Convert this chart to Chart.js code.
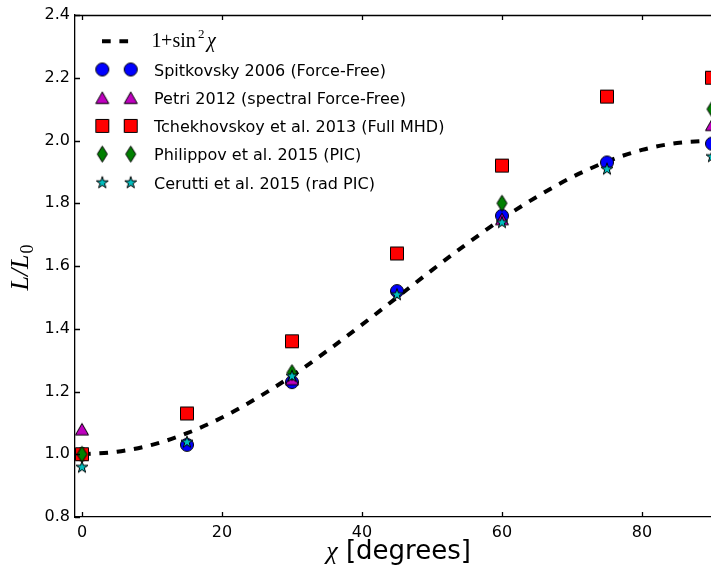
<!DOCTYPE html>
<html><head><meta charset="utf-8">
<script src="https://cdn.jsdelivr.net/npm/chart.js@4.4.1/dist/chart.umd.min.js"></script>
<style>html,body{margin:0;padding:0;overflow:hidden;background:#fff;width:711px;height:572px}canvas{display:block}</style>
</head><body><canvas id="c" width="712" height="572"></canvas>
<script>
// ---- data ----
const modelX = [0,5,10,15,20,25,30,35,40,45,50,55,60,65,70,75,80,85,90];
const modelY = [1.000,1.008,1.030,1.067,1.117,1.179,1.250,1.329,1.413,1.500,1.587,1.671,1.750,1.821,1.883,1.933,1.970,1.992,2.000];
const spitX = [0,15,30,45,60,75,90];
const spitY = [1.00,1.03,1.23,1.52,1.76,1.93,1.99];
const petriX = [0,30,60,90];
const petriY = [1.08,1.24,1.75,2.05];
const tchekX = [0,15,30,45,60,75,90];
const tchekY = [1.00,1.13,1.36,1.64,1.92,2.14,2.20];
const philX = [0,30,60,90];
const philY = [1.00,1.26,1.80,2.10];
const ceruX = [0,15,30,45,60,75,90];
const ceruY = [0.96,1.04,1.25,1.51,1.74,1.91,1.95];
const xTicks = [0,20,40,60,80];
const yTicks = [0.8,1.0,1.2,1.4,1.6,1.8,2.0,2.2,2.4];
const seriesNames = ['Spitkovsky 2006 (Force-Free)','Petri 2012 (spectral Force-Free)','Tchekhovskoy et al. 2013 (Full MHD)','Philippov et al. 2015 (PIC)','Cerutti et al. 2015 (rad PIC)'];

function pts(xs, ys){ return xs.map((x,i)=>({x:x, y:ys[i]})); }

// ---- marker images ----
function marker(shape, fill, w, h){
  const c = document.createElement('canvas');
  c.width = Math.ceil(w) + 3; c.height = Math.ceil(h) + 3;
  const g = c.getContext('2d');
  const cx = c.width/2, cy = c.height/2;
  g.beginPath();
  if (shape === 'circle') { g.arc(cx, cy, w/2, 0, Math.PI*2); }
  else if (shape === 'square') { g.rect(cx-w/2, cy-h/2, w, h); }
  else if (shape === 'triangle') { g.moveTo(cx, cy-h/2); g.lineTo(cx+w/2, cy+h/2); g.lineTo(cx-w/2, cy+h/2); g.closePath(); }
  else if (shape === 'diamond') { g.moveTo(cx, cy-h/2); g.lineTo(cx+w/2, cy); g.lineTo(cx, cy+h/2); g.lineTo(cx-w/2, cy); g.closePath(); }
  else if (shape === 'star') {
    const R = w/2, r = R*0.382;
    for (let k=0;k<10;k++){
      const a = -Math.PI/2 + k*Math.PI/5;
      const rr = (k%2===0)? R : r;
      const px = cx + rr*Math.cos(a), py = cy + 0.5 + rr*Math.sin(a);
      if (k===0) g.moveTo(px,py); else g.lineTo(px,py);
    }
    g.closePath();
  }
  g.fillStyle = fill; g.fill();
  g.lineWidth = 1; g.strokeStyle = '#000'; g.lineJoin = 'miter'; g.stroke();
  return c;
}
const mCircle = marker('circle', '#0000ff', 13, 13);
const mTri = marker('triangle', '#bf00bf', 13, 11.5);
const mSq = marker('square', '#ff0000', 13, 13);
const mDia = marker('diamond', '#007f00', 10, 16);
const mStar = marker('star', '#00bfbf', 12.6, 12);
const markers = [mCircle, mTri, mSq, mDia, mStar];

function sc(data, img, order){
  return {type:'scatter', data:data, pointStyle:img, pointRadius:7, pointHoverRadius:7,
          showLine:false, order:order, backgroundColor:'#000', borderColor:'#000'};
}

const DASH = [8.7, 8.7];

const decor = {
  id:'decor',
  afterDraw(chart){
    const ctx = chart.ctx, a = chart.chartArea;
    const xs = chart.scales.x, ys = chart.scales.y;
    ctx.save();
    ctx.strokeStyle = '#000'; ctx.lineWidth = 1.3;
    // frame top
    ctx.beginPath();
    ctx.moveTo(a.left, a.top+0.5); ctx.lineTo(a.right, a.top+0.5);
    ctx.stroke();
    // inside ticks
    ctx.beginPath();
    xTicks.forEach(v=>{
      const p = Math.round(xs.getPixelForValue(v))+0.5;
      ctx.moveTo(p, a.bottom); ctx.lineTo(p, a.bottom-5);
      ctx.moveTo(p, a.top); ctx.lineTo(p, a.top+5);
    });
    yTicks.forEach(v=>{
      const p = Math.round(ys.getPixelForValue(v))+0.5;
      ctx.moveTo(a.left, p); ctx.lineTo(a.left+5, p);
    });
    ctx.stroke();

    // y title L/L0
    ctx.save();
    ctx.fillStyle = '#000';
    ctx.translate(28.3, (a.top+a.bottom)/2 + 2);
    ctx.rotate(-Math.PI/2);
    ctx.font = 'italic 26px "Liberation Serif"';
    const t1 = 'L/L';
    const w1 = ctx.measureText(t1).width;
    ctx.font = '18px "Liberation Serif"';
    const w2 = ctx.measureText('0').width;
    let sx = -(w1+w2)/2;
    ctx.font = 'italic 26px "Liberation Serif"';
    ctx.textBaseline = 'alphabetic';
    ctx.fillText(t1, sx, 0);
    ctx.font = '18px "Liberation Serif"';
    ctx.fillText('0', sx + w1 + 1, 5);
    ctx.restore();

    // x title
    ctx.fillStyle = '#000';
    ctx.textBaseline = 'alphabetic';
    ctx.font = 'italic 26px "Liberation Serif"';
    const c1 = ctx.measureText('\u03c7').width;
    ctx.font = '26px "DejaVu Sans"';
    const c2 = ctx.measureText(' [degrees]').width;
    const cx = (a.left + a.right)/2 + 5;
    let x0 = cx - (c1 + c2)/2;
    ctx.font = 'italic 26px "Liberation Serif"';
    ctx.fillText('\u03c7', x0, 559);
    ctx.font = '26px "DejaVu Sans"';
    ctx.fillText(' [degrees]', x0 + c1, 559);

    // legend
    const rowY = [41.3, 69.5, 97.7, 125.9, 154.1, 182.3];
    const mx1 = 102.3, mx2 = 130.7, tx = 154;
    ctx.lineWidth = 4; ctx.lineCap = 'butt'; ctx.setLineDash(DASH);
    ctx.beginPath(); ctx.moveTo(102, rowY[0]); ctx.lineTo(128.2, rowY[0]); ctx.stroke();
    ctx.setLineDash([]);
    ctx.font = '20px "Liberation Serif"';
    ctx.fillText('1', 151.5, 47.3);
    ctx.fillText('+', 161, 47.3);
    ctx.fillText('sin', 172.5, 47.3);
    ctx.font = '13px "Liberation Serif"';
    ctx.fillText('2', 198, 38.3);
    ctx.font = 'italic 20px "Liberation Serif"';
    ctx.fillText('\u03c7', 207, 47.3);
    ctx.font = '16px "DejaVu Sans"';
    for (let i=0;i<5;i++){
      const y = rowY[i+1];
      const m = markers[i];
      ctx.drawImage(m, mx1 - m.width/2, y - m.height/2);
      ctx.drawImage(m, mx2 - m.width/2, y - m.height/2);
      ctx.fillText(seriesNames[i], tx, y + 6.3);
    }
    ctx.restore();
  }
};

new Chart(document.getElementById('c'), {
  type:'scatter',
  data:{ datasets:[
    {type:'line', label:'1+sin^2 chi', data:pts(modelX, modelY), borderColor:'#000', borderWidth:4,
     borderDash:DASH, borderCapStyle:'butt', pointRadius:0, fill:false, cubicInterpolationMode:'monotone', order:6},
    Object.assign(sc(pts(spitX, spitY), mCircle, 5), {label:seriesNames[0]}),
    Object.assign(sc(pts(petriX, petriY), mTri, 4), {label:seriesNames[1]}),
    Object.assign(sc(pts(tchekX, tchekY), mSq, 3), {label:seriesNames[2]}),
    Object.assign(sc(pts(philX, philY), mDia, 2), {label:seriesNames[3]}),
    Object.assign(sc(pts(ceruX, ceruY), mStar, 1), {label:seriesNames[4]})
  ]},
  options:{
    responsive:false, animation:false, devicePixelRatio:1,
    layout:{autoPadding:false, padding:{top:15, right:0, left:0, bottom:0}},
    plugins:{legend:{display:false}, tooltip:{enabled:false}},
    scales:{
      x:{type:'linear', min:-1, max:90,
         afterBuildTicks:s=>{ s.ticks = xTicks.map(v=>({value:v})); },
         afterFit:s=>{ s.height = 55; s.paddingLeft = 0; s.paddingRight = 0; },
         ticks:{font:{family:'DejaVu Sans', size:16}, color:'#000', padding:6, maxRotation:0, autoSkip:false,
                callback:v=>String(v)},
         grid:{drawOnChartArea:false, drawTicks:false},
         border:{display:true, color:'#000', width:1.3}},
      y:{type:'linear', min:0.8, max:2.4,
         afterBuildTicks:s=>{ s.ticks = yTicks.map(v=>({value:v})); },
         afterFit:s=>{ s.width = 75; s.paddingTop = 0; s.paddingBottom = 0; },
         ticks:{font:{family:'DejaVu Sans', size:16}, color:'#000', padding:5, autoSkip:false,
                callback:v=>Number(v).toFixed(1)},
         grid:{drawOnChartArea:false, drawTicks:false},
         border:{display:true, color:'#000', width:1.3}}
    }
  },
  plugins:[decor]
});
</script>
</body></html>
